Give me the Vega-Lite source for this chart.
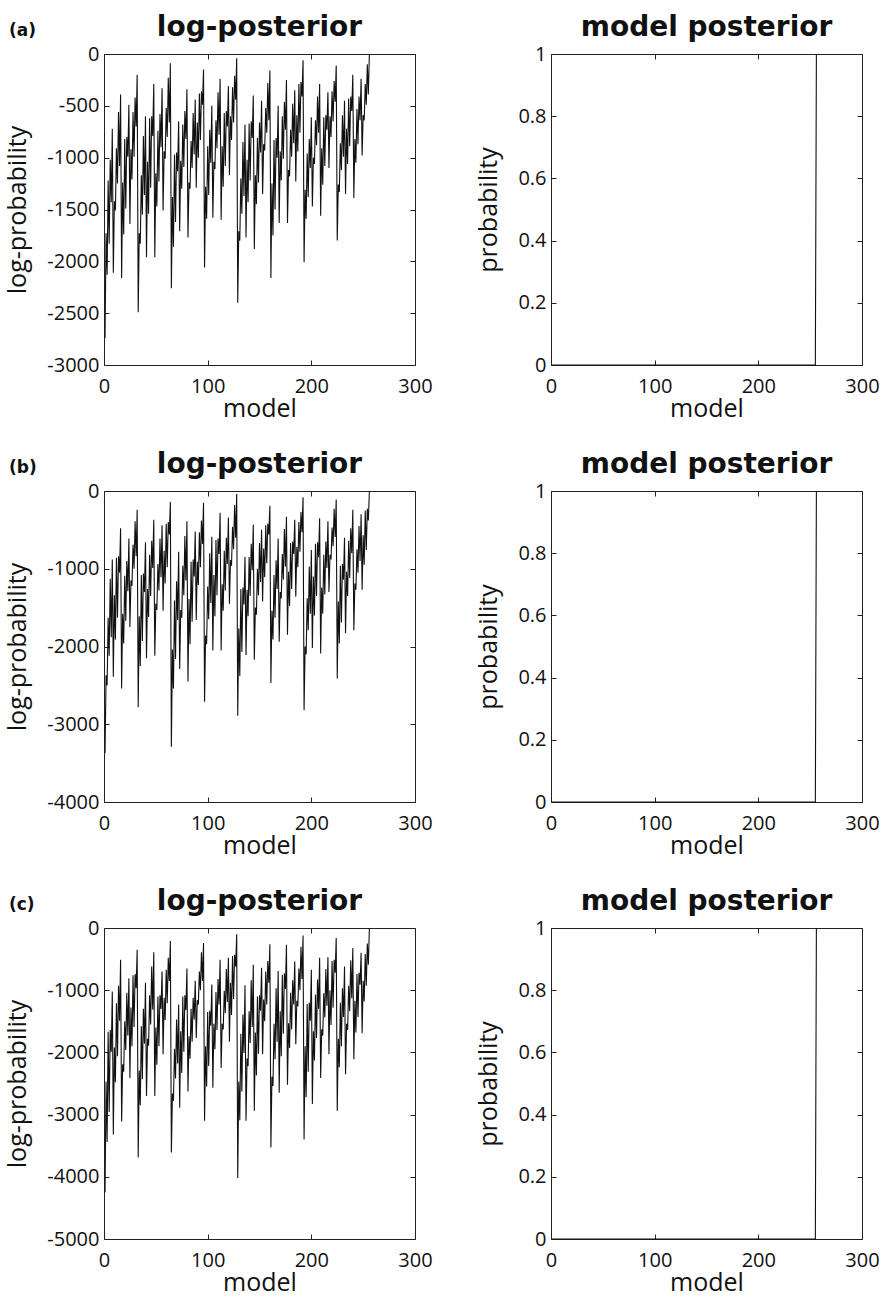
{
"$schema":"https://vega.github.io/schema/vega-lite/v6.json",
"padding":{"left":5,"top":14,"right":5,"bottom":5},
"config":{
 "font":"Open Sans",
 "view":{"stroke":null},
 "axis":{"domainColor":"#222","tickColor":"#222","labelColor":"#111","titleColor":"#111","labelFont":"Open Sans","titleFont":"Open Sans","labelFontSize":20,"titleFontSize":25,"titleFontWeight":"normal","grid":false,"tickSize":-5,"labelFlush":false},
 "axisX":{"labelPadding":16,"titlePadding":0},
 "axisY":{"labelPadding":10,"titlePadding":16},
 "title":{"font":"DejaVu Sans","fontSize":28,"fontWeight":"bold","color":"#111"},
 "line":{"color":"#111","strokeWidth":1.1}
},
"datasets":{"d":[
{"m":1,"a":-2740,"b":-3370,"c":-4250,"p":0},
{"m":2,"a":-1730,"b":-2370,"c":-2470,"p":0},
{"m":3,"a":-2130,"b":-2500,"c":-3440,"p":0},
{"m":4,"a":-1220,"b":-1630,"c":-1670,"p":0},
{"m":5,"a":-1830,"b":-2120,"c":-2960,"p":0},
{"m":6,"a":-1020,"b":-1130,"c":-1640,"p":0},
{"m":7,"a":-1430,"b":-1880,"c":-1990,"p":0},
{"m":8,"a":-720,"b":-880,"c":-1020,"p":0},
{"m":9,"a":-2110,"b":-2390,"c":-3320,"p":0},
{"m":10,"a":-1420,"b":-1340,"c":-1920,"p":0},
{"m":11,"a":-1510,"b":-1910,"c":-2480,"p":0},
{"m":12,"a":-910,"b":-860,"c":-1210,"p":0},
{"m":13,"a":-1250,"b":-1630,"c":-2060,"p":0},
{"m":14,"a":-560,"b":-840,"c":-930,"p":0},
{"m":15,"a":-1080,"b":-1050,"c":-1490,"p":0},
{"m":16,"a":-390,"b":-480,"c":-510,"p":0},
{"m":17,"a":-2160,"b":-2540,"c":-3110,"p":0},
{"m":18,"a":-1240,"b":-1580,"c":-2190,"p":0},
{"m":19,"a":-1740,"b":-1960,"c":-2310,"p":0},
{"m":20,"a":-820,"b":-1090,"c":-1500,"p":0},
{"m":21,"a":-1490,"b":-1670,"c":-1960,"p":0},
{"m":22,"a":-800,"b":-900,"c":-1040,"p":0},
{"m":23,"a":-990,"b":-1290,"c":-1730,"p":0},
{"m":24,"a":-490,"b":-610,"c":-810,"p":0},
{"m":25,"a":-1640,"b":-1750,"c":-2410,"p":0},
{"m":26,"a":-920,"b":-1150,"c":-1280,"p":0},
{"m":27,"a":-1210,"b":-1220,"c":-1900,"p":0},
{"m":28,"a":-560,"b":-690,"c":-760,"p":0},
{"m":29,"a":-990,"b":-1000,"c":-1590,"p":0},
{"m":30,"a":-420,"b":-390,"c":-740,"p":0},
{"m":31,"a":-700,"b":-840,"c":-970,"p":0},
{"m":32,"a":-200,"b":-240,"c":-350,"p":0},
{"m":33,"a":-2490,"b":-2780,"c":-3690,"p":0},
{"m":34,"a":-1730,"b":-1610,"c":-2290,"p":0},
{"m":35,"a":-1830,"b":-2250,"c":-2850,"p":0},
{"m":36,"a":-1170,"b":-1080,"c":-1580,"p":0},
{"m":37,"a":-1550,"b":-1930,"c":-2430,"p":0},
{"m":38,"a":-790,"b":-1060,"c":-1300,"p":0},
{"m":39,"a":-1360,"b":-1300,"c":-1860,"p":0},
{"m":40,"a":-600,"b":-660,"c":-880,"p":0},
{"m":41,"a":-1960,"b":-2150,"c":-2700,"p":0},
{"m":42,"a":-1040,"b":-1260,"c":-1780,"p":0},
{"m":43,"a":-1540,"b":-1620,"c":-1890,"p":0},
{"m":44,"a":-620,"b":-820,"c":-1080,"p":0},
{"m":45,"a":-1290,"b":-1350,"c":-1550,"p":0},
{"m":46,"a":-600,"b":-640,"c":-620,"p":0},
{"m":47,"a":-790,"b":-990,"c":-1310,"p":0},
{"m":48,"a":-290,"b":-370,"c":-390,"p":0},
{"m":49,"a":-1960,"b":-2120,"c":-2700,"p":0},
{"m":50,"a":-1150,"b":-1450,"c":-1600,"p":0},
{"m":51,"a":-1470,"b":-1530,"c":-2200,"p":0},
{"m":52,"a":-740,"b":-940,"c":-1100,"p":0},
{"m":53,"a":-1230,"b":-1280,"c":-1900,"p":0},
{"m":54,"a":-580,"b":-610,"c":-1080,"p":0},
{"m":55,"a":-900,"b":-1110,"c":-1300,"p":0},
{"m":56,"a":-330,"b":-440,"c":-700,"p":0},
{"m":57,"a":-1510,"b":-1540,"c":-2030,"p":0},
{"m":58,"a":-940,"b":-770,"c":-1120,"p":0},
{"m":59,"a":-1010,"b":-1190,"c":-1480,"p":0},
{"m":60,"a":-520,"b":-420,"c":-670,"p":0},
{"m":61,"a":-800,"b":-980,"c":-1210,"p":0},
{"m":62,"a":-230,"b":-400,"c":-480,"p":0},
{"m":63,"a":-660,"b":-560,"c":-850,"p":0},
{"m":64,"a":-90,"b":-140,"c":-210,"p":0},
{"m":65,"a":-2260,"b":-3290,"c":-3610,"p":0},
{"m":66,"a":-1380,"b":-2040,"c":-2660,"p":0},
{"m":67,"a":-1860,"b":-2540,"c":-2780,"p":0},
{"m":68,"a":-970,"b":-1410,"c":-1940,"p":0},
{"m":69,"a":-1620,"b":-2160,"c":-2420,"p":0},
{"m":70,"a":-950,"b":-1160,"c":-1470,"p":0},
{"m":71,"a":-1130,"b":-1660,"c":-2180,"p":0},
{"m":72,"a":-650,"b":-780,"c":-1230,"p":0},
{"m":73,"a":-1710,"b":-2290,"c":-2890,"p":0},
{"m":74,"a":-1030,"b":-1530,"c":-1660,"p":0},
{"m":75,"a":-1300,"b":-1630,"c":-2330,"p":0},
{"m":76,"a":-680,"b":-960,"c":-1100,"p":0},
{"m":77,"a":-1090,"b":-1340,"c":-1990,"p":0},
{"m":78,"a":-550,"b":-580,"c":-1080,"p":0},
{"m":79,"a":-820,"b":-1150,"c":-1320,"p":0},
{"m":80,"a":-340,"b":-390,"c":-650,"p":0},
{"m":81,"a":-1770,"b":-2450,"c":-2630,"p":0},
{"m":82,"a":-1240,"b":-1390,"c":-1740,"p":0},
{"m":83,"a":-1300,"b":-1970,"c":-2100,"p":0},
{"m":84,"a":-840,"b":-910,"c":-1300,"p":0},
{"m":85,"a":-1100,"b":-1680,"c":-1830,"p":0},
{"m":86,"a":-570,"b":-880,"c":-1120,"p":0},
{"m":87,"a":-970,"b":-1100,"c":-1470,"p":0},
{"m":88,"a":-440,"b":-520,"c":-850,"p":0},
{"m":89,"a":-1290,"b":-1660,"c":-1770,"p":0},
{"m":90,"a":-660,"b":-910,"c":-1160,"p":0},
{"m":91,"a":-1000,"b":-1210,"c":-1230,"p":0},
{"m":92,"a":-380,"b":-530,"c":-700,"p":0},
{"m":93,"a":-830,"b":-980,"c":-1000,"p":0},
{"m":94,"a":-360,"b":-380,"c":-390,"p":0},
{"m":95,"a":-490,"b":-680,"c":-850,"p":0},
{"m":96,"a":-150,"b":-150,"c":-240,"p":0},
{"m":97,"a":-2060,"b":-2710,"c":-3100,"p":0},
{"m":98,"a":-1280,"b":-1860,"c":-1900,"p":0},
{"m":99,"a":-1590,"b":-1970,"c":-2550,"p":0},
{"m":100,"a":-890,"b":-1230,"c":-1350,"p":0},
{"m":101,"a":-1360,"b":-1650,"c":-2220,"p":0},
{"m":102,"a":-730,"b":-800,"c":-1330,"p":0},
{"m":103,"a":-1050,"b":-1440,"c":-1570,"p":0},
{"m":104,"a":-500,"b":-590,"c":-910,"p":0},
{"m":105,"a":-1580,"b":-2050,"c":-2570,"p":0},
{"m":106,"a":-1040,"b":-1080,"c":-1540,"p":0},
{"m":107,"a":-1110,"b":-1610,"c":-1950,"p":0},
{"m":108,"a":-640,"b":-630,"c":-1030,"p":0},
{"m":109,"a":-910,"b":-1340,"c":-1640,"p":0},
{"m":110,"a":-370,"b":-610,"c":-820,"p":0},
{"m":111,"a":-780,"b":-810,"c":-1230,"p":0},
{"m":112,"a":-240,"b":-280,"c":-510,"p":0},
{"m":113,"a":-1600,"b":-2050,"c":-2250,"p":0},
{"m":114,"a":-890,"b":-1200,"c":-1540,"p":0},
{"m":115,"a":-1280,"b":-1540,"c":-1630,"p":0},
{"m":116,"a":-570,"b":-770,"c":-1010,"p":0},
{"m":117,"a":-1080,"b":-1280,"c":-1370,"p":0},
{"m":118,"a":-550,"b":-600,"c":-660,"p":0},
{"m":119,"a":-700,"b":-940,"c":-1190,"p":0},
{"m":120,"a":-310,"b":-340,"c":-480,"p":0},
{"m":121,"a":-1170,"b":-1450,"c":-1830,"p":0},
{"m":122,"a":-600,"b":-890,"c":-880,"p":0},
{"m":123,"a":-830,"b":-960,"c":-1400,"p":0},
{"m":124,"a":-320,"b":-460,"c":-450,"p":0},
{"m":125,"a":-660,"b":-750,"c":-1140,"p":0},
{"m":126,"a":-210,"b":-180,"c":-430,"p":0},
{"m":127,"a":-440,"b":-600,"c":-620,"p":0},
{"m":128,"a":-40,"b":-40,"c":-100,"p":0},
{"m":129,"a":-2400,"b":-2890,"c":-4020,"p":0},
{"m":130,"a":-1710,"b":-1770,"c":-2470,"p":0},
{"m":131,"a":-1800,"b":-2380,"c":-3090,"p":0},
{"m":132,"a":-1200,"b":-1260,"c":-1700,"p":0},
{"m":133,"a":-1540,"b":-2070,"c":-2630,"p":0},
{"m":134,"a":-850,"b":-1240,"c":-1390,"p":0},
{"m":135,"a":-1370,"b":-1460,"c":-2010,"p":0},
{"m":136,"a":-680,"b":-850,"c":-920,"p":0},
{"m":137,"a":-1770,"b":-2110,"c":-3100,"p":0},
{"m":138,"a":-1020,"b":-1270,"c":-2100,"p":0},
{"m":139,"a":-1430,"b":-1610,"c":-2220,"p":0},
{"m":140,"a":-670,"b":-850,"c":-1340,"p":0},
{"m":141,"a":-1220,"b":-1350,"c":-1850,"p":0},
{"m":142,"a":-650,"b":-680,"c":-840,"p":0},
{"m":143,"a":-810,"b":-1020,"c":-1590,"p":0},
{"m":144,"a":-400,"b":-430,"c":-590,"p":0},
{"m":145,"a":-1880,"b":-2170,"c":-2940,"p":0},
{"m":146,"a":-1170,"b":-1500,"c":-1680,"p":0},
{"m":147,"a":-1450,"b":-1590,"c":-2370,"p":0},
{"m":148,"a":-810,"b":-1000,"c":-1100,"p":0},
{"m":149,"a":-1240,"b":-1340,"c":-2020,"p":0},
{"m":150,"a":-660,"b":-670,"c":-1080,"p":0},
{"m":151,"a":-950,"b":-1170,"c":-1330,"p":0},
{"m":152,"a":-450,"b":-500,"c":-640,"p":0},
{"m":153,"a":-1350,"b":-1420,"c":-2030,"p":0},
{"m":154,"a":-870,"b":-740,"c":-1150,"p":0},
{"m":155,"a":-930,"b":-1110,"c":-1500,"p":0},
{"m":156,"a":-520,"b":-440,"c":-700,"p":0},
{"m":157,"a":-760,"b":-930,"c":-1230,"p":0},
{"m":158,"a":-280,"b":-420,"c":-530,"p":0},
{"m":159,"a":-640,"b":-560,"c":-880,"p":0},
{"m":160,"a":-160,"b":-190,"c":-260,"p":0},
{"m":161,"a":-2160,"b":-2470,"c":-3530,"p":0},
{"m":162,"a":-1250,"b":-1540,"c":-2390,"p":0},
{"m":163,"a":-1750,"b":-1910,"c":-2540,"p":0},
{"m":164,"a":-830,"b":-1080,"c":-1540,"p":0},
{"m":165,"a":-1500,"b":-1630,"c":-2110,"p":0},
{"m":166,"a":-810,"b":-890,"c":-970,"p":0},
{"m":167,"a":-1000,"b":-1260,"c":-1830,"p":0},
{"m":168,"a":-500,"b":-610,"c":-690,"p":0},
{"m":169,"a":-1630,"b":-1940,"c":-2650,"p":0},
{"m":170,"a":-940,"b":-1300,"c":-1340,"p":0},
{"m":171,"a":-1220,"b":-1380,"c":-2060,"p":0},
{"m":172,"a":-600,"b":-810,"c":-750,"p":0},
{"m":173,"a":-1010,"b":-1140,"c":-1700,"p":0},
{"m":174,"a":-460,"b":-490,"c":-730,"p":0},
{"m":175,"a":-730,"b":-970,"c":-980,"p":0},
{"m":176,"a":-250,"b":-330,"c":-270,"p":0},
{"m":177,"a":-1630,"b":-1850,"c":-2520,"p":0},
{"m":178,"a":-1120,"b":-1040,"c":-1530,"p":0},
{"m":179,"a":-1180,"b":-1480,"c":-1930,"p":0},
{"m":180,"a":-730,"b":-670,"c":-1040,"p":0},
{"m":181,"a":-990,"b":-1260,"c":-1630,"p":0},
{"m":182,"a":-480,"b":-650,"c":-840,"p":0},
{"m":183,"a":-860,"b":-810,"c":-1230,"p":0},
{"m":184,"a":-350,"b":-370,"c":-540,"p":0},
{"m":185,"a":-1230,"b":-1360,"c":-1870,"p":0},
{"m":186,"a":-590,"b":-720,"c":-1170,"p":0},
{"m":187,"a":-940,"b":-980,"c":-1260,"p":0},
{"m":188,"a":-290,"b":-400,"c":-650,"p":0},
{"m":189,"a":-760,"b":-780,"c":-1000,"p":0},
{"m":190,"a":-270,"b":-270,"c":-300,"p":0},
{"m":191,"a":-410,"b":-530,"c":-820,"p":0},
{"m":192,"a":-60,"b":-80,"c":-120,"p":0},
{"m":193,"a":-2010,"b":-2820,"c":-3400,"p":0},
{"m":194,"a":-1310,"b":-2000,"c":-1900,"p":0},
{"m":195,"a":-1590,"b":-2100,"c":-2720,"p":0},
{"m":196,"a":-960,"b":-1380,"c":-1220,"p":0},
{"m":197,"a":-1380,"b":-1790,"c":-2310,"p":0},
{"m":198,"a":-820,"b":-970,"c":-1200,"p":0},
{"m":199,"a":-1100,"b":-1580,"c":-1490,"p":0},
{"m":200,"a":-610,"b":-760,"c":-670,"p":0},
{"m":201,"a":-1470,"b":-2020,"c":-2830,"p":0},
{"m":202,"a":-1000,"b":-1100,"c":-1660,"p":0},
{"m":203,"a":-1060,"b":-1600,"c":-2130,"p":0},
{"m":204,"a":-640,"b":-680,"c":-1070,"p":0},
{"m":205,"a":-880,"b":-1350,"c":-1770,"p":0},
{"m":206,"a":-410,"b":-660,"c":-830,"p":0},
{"m":207,"a":-760,"b":-850,"c":-1300,"p":0},
{"m":208,"a":-290,"b":-350,"c":-480,"p":0},
{"m":209,"a":-1560,"b":-2090,"c":-2410,"p":0},
{"m":210,"a":-910,"b":-1240,"c":-1630,"p":0},
{"m":211,"a":-1260,"b":-1580,"c":-1730,"p":0},
{"m":212,"a":-610,"b":-820,"c":-1050,"p":0},
{"m":213,"a":-1080,"b":-1330,"c":-1440,"p":0},
{"m":214,"a":-590,"b":-650,"c":-660,"p":0},
{"m":215,"a":-730,"b":-990,"c":-1250,"p":0},
{"m":216,"a":-370,"b":-390,"c":-470,"p":0},
{"m":217,"a":-1100,"b":-1300,"c":-2030,"p":0},
{"m":218,"a":-600,"b":-820,"c":-1000,"p":0},
{"m":219,"a":-800,"b":-880,"c":-1560,"p":0},
{"m":220,"a":-360,"b":-470,"c":-530,"p":0},
{"m":221,"a":-650,"b":-710,"c":-1280,"p":0},
{"m":222,"a":-260,"b":-230,"c":-510,"p":0},
{"m":223,"a":-460,"b":-590,"c":-720,"p":0},
{"m":224,"a":-110,"b":-110,"c":-160,"p":0},
{"m":225,"a":-1800,"b":-2410,"c":-2940,"p":0},
{"m":226,"a":-1260,"b":-1420,"c":-1780,"p":0},
{"m":227,"a":-1330,"b":-1960,"c":-2240,"p":0},
{"m":228,"a":-860,"b":-960,"c":-1200,"p":0},
{"m":229,"a":-1120,"b":-1690,"c":-1900,"p":0},
{"m":230,"a":-590,"b":-940,"c":-970,"p":0},
{"m":231,"a":-990,"b":-1140,"c":-1430,"p":0},
{"m":232,"a":-450,"b":-600,"c":-620,"p":0},
{"m":233,"a":-1350,"b":-1830,"c":-2350,"p":0},
{"m":234,"a":-720,"b":-1040,"c":-1540,"p":0},
{"m":235,"a":-1060,"b":-1350,"c":-1640,"p":0},
{"m":236,"a":-430,"b":-640,"c":-930,"p":0},
{"m":237,"a":-890,"b":-1120,"c":-1340,"p":0},
{"m":238,"a":-410,"b":-480,"c":-520,"p":0},
{"m":239,"a":-550,"b":-800,"c":-1130,"p":0},
{"m":240,"a":-200,"b":-240,"c":-320,"p":0},
{"m":241,"a":-1390,"b":-1790,"c":-2110,"p":0},
{"m":242,"a":-820,"b":-1190,"c":-1170,"p":0},
{"m":243,"a":-1050,"b":-1270,"c":-1680,"p":0},
{"m":244,"a":-530,"b":-750,"c":-740,"p":0},
{"m":245,"a":-870,"b":-1050,"c":-1430,"p":0},
{"m":246,"a":-410,"b":-450,"c":-720,"p":0},
{"m":247,"a":-640,"b":-900,"c":-910,"p":0},
{"m":248,"a":-240,"b":-300,"c":-400,"p":0},
{"m":249,"a":-980,"b":-1270,"c":-1690,"p":0},
{"m":250,"a":-590,"b":-570,"c":-850,"p":0},
{"m":251,"a":-640,"b":-950,"c":-1180,"p":0},
{"m":252,"a":-290,"b":-250,"c":-420,"p":0},
{"m":253,"a":-490,"b":-760,"c":-930,"p":0},
{"m":254,"a":-100,"b":-230,"c":-250,"p":0},
{"m":255,"a":-390,"b":-380,"c":-590,"p":0},
{"m":256,"a":0,"b":0,"c":0,"p":1}
]},
"spacing":437,
"bounds":"flush",
"vconcat":[
{"title":{"text":"(a)","anchor":"start","frame":"group","font":"DejaVu Sans","fontSize":17,"fontWeight":"bold","dx":-95,"dy":30},
 "spacing":136,"bounds":"flush",
 "hconcat":[
  {"title":{"text":"log-posterior","offset":2},"width":311,"height":311,"data":{"name":"d"},
   "layer":[
    {"mark":{"type":"line"},"encoding":{
      "x":{"field":"m","type":"quantitative","scale":{"domain":[0,300]},"axis":{"orient":"bottom","values":[0,100,200,300],"title":"model"}},
      "y":{"field":"a","type":"quantitative","scale":{"domain":[-3000,0]},"axis":{"orient":"left","values":[-3000,-2500,-2000,-1500,-1000,-500,0],"title":"log-probability","labelExpr":"datum.value + ''"}}}},
    {"mark":{"type":"line","opacity":0},"encoding":{
      "x":{"field":"m","type":"quantitative","scale":{"domain":[0,300]},"axis":{"orient":"top","values":[0,100,200,300],"labels":false,"title":null}},
      "y":{"field":"a","type":"quantitative","scale":{"domain":[-3000,0]},"axis":{"orient":"right","values":[-3000,-2500,-2000,-1500,-1000,-500,0],"labels":false,"title":null}}}}
   ],
   "resolve":{"axis":{"x":"independent","y":"independent"}}},
  {"title":{"text":"model posterior","offset":2},"width":311,"height":311,"data":{"name":"d"},
   "layer":[
    {"mark":{"type":"line"},"encoding":{
      "x":{"field":"m","type":"quantitative","scale":{"domain":[0,300]},"axis":{"orient":"bottom","values":[0,100,200,300],"title":"model"}},
      "y":{"field":"p","type":"quantitative","scale":{"domain":[0,1]},"axis":{"orient":"left","values":[0,0.2,0.4,0.6,0.8,1],"title":"probability","labelExpr":"datum.value + ''"}}}},
    {"mark":{"type":"line","opacity":0},"encoding":{
      "x":{"field":"m","type":"quantitative","scale":{"domain":[0,300]},"axis":{"orient":"top","values":[0,100,200,300],"labels":false,"title":null}},
      "y":{"field":"p","type":"quantitative","scale":{"domain":[0,1]},"axis":{"orient":"right","values":[0,0.2,0.4,0.6,0.8,1],"labels":false,"title":null}}}}
   ],
   "resolve":{"axis":{"x":"independent","y":"independent"}}}
 ]},
{"title":{"text":"(b)","anchor":"start","frame":"group","font":"DejaVu Sans","fontSize":17,"fontWeight":"bold","dx":-95,"dy":30},
 "spacing":136,"bounds":"flush",
 "hconcat":[
  {"title":{"text":"log-posterior","offset":2},"width":311,"height":311,"data":{"name":"d"},
   "layer":[
    {"mark":{"type":"line"},"encoding":{
      "x":{"field":"m","type":"quantitative","scale":{"domain":[0,300]},"axis":{"orient":"bottom","values":[0,100,200,300],"title":"model"}},
      "y":{"field":"b","type":"quantitative","scale":{"domain":[-4000,0]},"axis":{"orient":"left","values":[-4000,-3000,-2000,-1000,0],"title":"log-probability","labelExpr":"datum.value + ''"}}}},
    {"mark":{"type":"line","opacity":0},"encoding":{
      "x":{"field":"m","type":"quantitative","scale":{"domain":[0,300]},"axis":{"orient":"top","values":[0,100,200,300],"labels":false,"title":null}},
      "y":{"field":"b","type":"quantitative","scale":{"domain":[-4000,0]},"axis":{"orient":"right","values":[-4000,-3000,-2000,-1000,0],"labels":false,"title":null}}}}
   ],
   "resolve":{"axis":{"x":"independent","y":"independent"}}},
  {"title":{"text":"model posterior","offset":2},"width":311,"height":311,"data":{"name":"d"},
   "layer":[
    {"mark":{"type":"line"},"encoding":{
      "x":{"field":"m","type":"quantitative","scale":{"domain":[0,300]},"axis":{"orient":"bottom","values":[0,100,200,300],"title":"model"}},
      "y":{"field":"p","type":"quantitative","scale":{"domain":[0,1]},"axis":{"orient":"left","values":[0,0.2,0.4,0.6,0.8,1],"title":"probability","labelExpr":"datum.value + ''"}}}},
    {"mark":{"type":"line","opacity":0},"encoding":{
      "x":{"field":"m","type":"quantitative","scale":{"domain":[0,300]},"axis":{"orient":"top","values":[0,100,200,300],"labels":false,"title":null}},
      "y":{"field":"p","type":"quantitative","scale":{"domain":[0,1]},"axis":{"orient":"right","values":[0,0.2,0.4,0.6,0.8,1],"labels":false,"title":null}}}}
   ],
   "resolve":{"axis":{"x":"independent","y":"independent"}}}
 ]},
{"title":{"text":"(c)","anchor":"start","frame":"group","font":"DejaVu Sans","fontSize":17,"fontWeight":"bold","dx":-95,"dy":30},
 "spacing":136,"bounds":"flush",
 "hconcat":[
  {"title":{"text":"log-posterior","offset":2},"width":311,"height":311,"data":{"name":"d"},
   "layer":[
    {"mark":{"type":"line"},"encoding":{
      "x":{"field":"m","type":"quantitative","scale":{"domain":[0,300]},"axis":{"orient":"bottom","values":[0,100,200,300],"title":"model"}},
      "y":{"field":"c","type":"quantitative","scale":{"domain":[-5000,0]},"axis":{"orient":"left","values":[-5000,-4000,-3000,-2000,-1000,0],"title":"log-probability","labelExpr":"datum.value + ''"}}}},
    {"mark":{"type":"line","opacity":0},"encoding":{
      "x":{"field":"m","type":"quantitative","scale":{"domain":[0,300]},"axis":{"orient":"top","values":[0,100,200,300],"labels":false,"title":null}},
      "y":{"field":"c","type":"quantitative","scale":{"domain":[-5000,0]},"axis":{"orient":"right","values":[-5000,-4000,-3000,-2000,-1000,0],"labels":false,"title":null}}}}
   ],
   "resolve":{"axis":{"x":"independent","y":"independent"}}},
  {"title":{"text":"model posterior","offset":2},"width":311,"height":311,"data":{"name":"d"},
   "layer":[
    {"mark":{"type":"line"},"encoding":{
      "x":{"field":"m","type":"quantitative","scale":{"domain":[0,300]},"axis":{"orient":"bottom","values":[0,100,200,300],"title":"model"}},
      "y":{"field":"p","type":"quantitative","scale":{"domain":[0,1]},"axis":{"orient":"left","values":[0,0.2,0.4,0.6,0.8,1],"title":"probability","labelExpr":"datum.value + ''"}}}},
    {"mark":{"type":"line","opacity":0},"encoding":{
      "x":{"field":"m","type":"quantitative","scale":{"domain":[0,300]},"axis":{"orient":"top","values":[0,100,200,300],"labels":false,"title":null}},
      "y":{"field":"p","type":"quantitative","scale":{"domain":[0,1]},"axis":{"orient":"right","values":[0,0.2,0.4,0.6,0.8,1],"labels":false,"title":null}}}}
   ],
   "resolve":{"axis":{"x":"independent","y":"independent"}}}
 ]}
]
}
